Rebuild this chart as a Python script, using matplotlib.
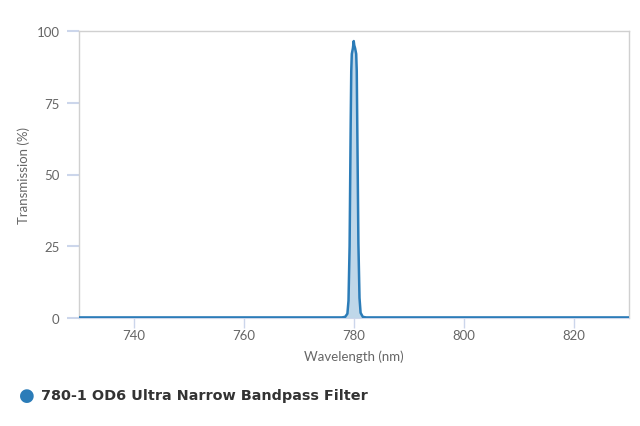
import numpy as np
import matplotlib.pyplot as plt

# transmission curve
wavelength = [730, 777.8, 778.4, 778.8, 779.0, 779.2, 779.4, 779.5, 779.6, 779.8,
              779.95, 780.05, 780.2, 780.4, 780.5, 780.6, 780.8, 781.0, 781.2, 781.6, 782.2, 830]
transmission = [0.2, 0.2, 0.4, 1.5, 6, 25, 68, 86, 92, 94,
                96.5, 95, 94, 92, 86, 66, 26, 7, 1.8, 0.4, 0.2, 0.2]
series_name = "780-1 OD6 Ultra Narrow Bandpass Filter"
x_ticks = [740, 760, 780, 800, 820]
y_ticks = [0, 25, 50, 75, 100]

line_color = '#2b7cb8'
axis_gray = '#666666'

fig = plt.figure(figsize=(6.4, 4.27), dpi=100)
ax = fig.add_axes([79/640, 1-319/427, 550/640, 287/427])

ax.fill_between(wavelength, transmission, 0, color=line_color, alpha=0.3, lw=0)
ax.plot(wavelength, transmission, color=line_color, lw=1.8, zorder=3)

ax.set_xlim(730, 830)
ax.set_ylim(0, 100)
ax.set_xticks(x_ticks)
ax.set_yticks(y_ticks)

for side in ['left', 'top', 'right']:
    ax.spines[side].set_color('#d0d0d0')
    ax.spines[side].set_linewidth(1)
ax.spines['bottom'].set_color('#ccd6eb')

ax.tick_params(axis='x', colors='#ccd6eb', length=7, width=1, labelcolor=axis_gray,
               labelsize=9.5, pad=1)
ax.tick_params(axis='y', colors='#ccd6eb', length=9, width=1.5, labelcolor=axis_gray,
               labelsize=9.5, pad=5)
for lab in ax.get_xticklabels() + ax.get_yticklabels():
    lab.set_family('Lato')

ax.set_xlabel('Wavelength (nm)', color=axis_gray, fontsize=9.5, family='Lato', labelpad=6)
ax.set_ylabel('Transmission (%)', color=axis_gray, fontsize=9.5, family='Lato', labelpad=5)

# legend drawn below the plot area
fig.text(27/640, 1-396/427, '\u25CF', color=line_color, fontsize=13,
         ha='center', va='center')
fig.text(41/640, 1-396/427, series_name, color='#333333', fontsize=10.4,
         fontweight='bold', family='DejaVu Sans', ha='left', va='center')

fig.savefig('out.png', dpi=100)
